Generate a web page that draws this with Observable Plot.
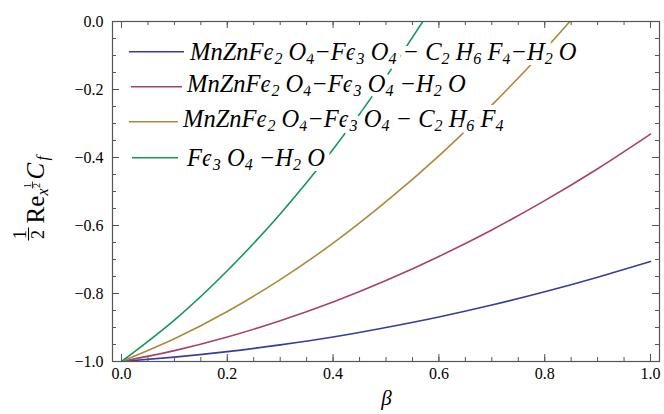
<!DOCTYPE html>
<html><head><meta charset="utf-8">
<script src="https://cdn.jsdelivr.net/npm/d3@7"></script>
<script src="https://cdn.jsdelivr.net/npm/@observablehq/plot@0.6"></script>
<style>body{margin:0;background:#fff}#chart{width:664px;height:414px}</style>
</head><body><div id="chart"></div>
<script>
// ---- data ----
const beta = [0, 0.1, 0.2, 0.3, 0.4, 0.5, 0.6, 0.7, 0.8, 0.9, 1.0];
const seriesNames = [
  "MnZnFe_2 O_4−Fe_3 O_4 − C_2 H_6 F_4−H_2 O",
  "MnZnFe_2 O_4−Fe_3 O_4 −H_2 O",
  "MnZnFe_2 O_4−Fe_3 O_4 − C_2 H_6 F_4",
  "Fe_3 O_4 −H_2 O"
];
const hybridQuaternary = [-1, -0.987, -0.971, -0.951, -0.928, -0.900, -0.869, -0.834, -0.795, -0.752, -0.706];
const hybridWater      = [-1, -0.968, -0.928, -0.880, -0.825, -0.762, -0.691, -0.613, -0.527, -0.433, -0.331];
const hybridR134a      = [-1, -0.933, -0.853, -0.759, -0.652, -0.530, -0.395, -0.246, -0.083, 0.094, null];
const monoWater        = [-1, -0.878, -0.733, -0.566, -0.376, -0.163, 0.073, null, null, null, null];
const seriesValues = [hybridQuaternary, hybridWater, hybridR134a, monoWater];
const colors = ["#3b3c98", "#a8406e", "#a88b3c", "#16955c"];
const xMajor = [0, 0.2, 0.4, 0.6, 0.8, 1.0];
const xMinor = [0,0.05,0.1,0.15,0.2,0.25,0.3,0.35,0.4,0.45,0.5,0.55,0.6,0.65,0.7,0.75,0.8,0.85,0.9,0.95,1.0];
const yMajor = [-1.0, -0.8, -0.6, -0.4, -0.2, 0.0];
const yMinor = [-1,-0.95,-0.9,-0.85,-0.8,-0.75,-0.7,-0.65,-0.6,-0.55,-0.5,-0.45,-0.4,-0.35,-0.3,-0.25,-0.2,-0.15,-0.1,-0.05,0];
const xLabel = "β";

// ---- build table ----
const rows = seriesNames.flatMap((name, i) =>
  beta.map((b, j) => ({beta: b, value: seriesValues[i][j], series: name})).filter(d => d.value != null));

const serif = "'Liberation Serif','Times New Roman',Times,serif";
const W = 664, H = 414, mL = 112, mR = 5, mT = 21, mB = 53;
const iW = W - mL - mR, iH = H - mT - mB;
const axisColor = "#555";
const fmt = d3.format(".1f");

// y-label pieces: page anchor (px,py) of each rotated glyph run (baseline point)
const midY = mT + iH / 2;
const yLabelPieces = [
  {t: "1",  px: 25,   py: 234, s: 18, a: "middle", i: false},
  {t: "2",  px: 43,   py: 234, s: 18, a: "middle", i: false},
  {t: "Re", px: 43,   py: 223, s: 25, a: "start",  i: false},
  {t: "x",  px: 47,   py: 195, s: 16, a: "start",  i: true},
  {t: "1",  px: 30.5, py: 185, s: 10, a: "middle", i: false},
  {t: "2",  px: 39.5, py: 185, s: 10, a: "middle", i: false},
  {t: "C",  px: 43,   py: 179, s: 25, a: "start",  i: true},
  {t: "f",  px: 47,   py: 160, s: 16, a: "start",  i: true}
];
const yLabelMarks = yLabelPieces.map(p => Plot.text([p.t], {
  text: d => d, frameAnchor: "left", rotate: -90, lineAnchor: "bottom",
  textAnchor: p.a, fontSize: p.s, fontStyle: p.i ? "italic" : "normal",
  dx: p.px - mL, dy: p.py - midY, fill: "#000"
}));

const plot = Plot.plot({
  width: W, height: H,
  marginLeft: mL, marginRight: mR, marginTop: mT, marginBottom: mB,
  style: {fontFamily: serif, fontSize: "16px", color: "#000", background: "#fff", overflow: "visible"},
  x: {domain: [-0.017, 1.017], label: null},
  y: {domain: [-1, 0], label: null},
  color: {domain: seriesNames, range: colors},
  marks: [
    Plot.line(rows, {x: "beta", y: "value", z: "series", stroke: "series", strokeWidth: 1.6, curve: "natural", clip: true}),
    // inward ticks: bottom / top
    Plot.tickX(xMinor, {x: d => d, stroke: axisColor, insetTop: iH - 4}),
    Plot.tickX(xMajor, {x: d => d, stroke: axisColor, insetTop: iH - 7}),
    Plot.tickX(xMinor, {x: d => d, stroke: axisColor, insetBottom: iH - 4}),
    Plot.tickX(xMajor, {x: d => d, stroke: axisColor, insetBottom: iH - 7}),
    // inward ticks: left / right
    Plot.tickY(yMinor, {y: d => d, stroke: axisColor, insetRight: iW - 4}),
    Plot.tickY(yMajor, {y: d => d, stroke: axisColor, insetRight: iW - 7}),
    Plot.tickY(yMinor, {y: d => d, stroke: axisColor, insetLeft: iW - 4}),
    Plot.tickY(yMajor, {y: d => d, stroke: axisColor, insetLeft: iW - 7}),
    Plot.frame({stroke: axisColor, strokeWidth: 1.2}),
    Plot.axisX(xMajor, {anchor: "bottom", tickSize: 0, tickPadding: 6, tickFormat: fmt, label: null, fontSize: 16}),
    Plot.axisY(yMajor, {anchor: "left", tickSize: 0, tickPadding: 9, tickFormat: fmt, label: null, fontSize: 16}),
    Plot.text([xLabel], {text: d => d, frameAnchor: "bottom", lineAnchor: "bottom", dx: 386 - (mL + iW / 2), dy: 404 - (H - mB),
      fontSize: 21, fontStyle: "italic", fill: "#000"}),
    ...yLabelMarks
  ]
});
document.getElementById("chart").appendChild(plot);

// fraction bars of the y label (vertical strokes, because the label is rotated)
const svg = d3.select(plot);
svg.append("line").attr("x1", 28.5).attr("x2", 28.5).attr("y1", 227.5).attr("y2", 240.5).attr("stroke", "#000").attr("stroke-width", 1.1);
svg.append("line").attr("x1", 32.5).attr("x2", 32.5).attr("y1", 181.5).attr("y2", 188.5).attr("stroke", "#000").attr("stroke-width", 0.8);

// ---- legend (drawn on top of curves, with white halo like the reference) ----
const legendLayout = [
  {lineY: 51.7, x1: 129, x2: 184, tx: 190, ty: 60},
  {lineY: 86.7, x1: 131, x2: 182, tx: 187, ty: 92},
  {lineY: 121.7, x1: 129, x2: 178, tx: 183, ty: 127},
  {lineY: 157.7, x1: 132, x2: 178, tx: 187, ty: 166}
];
const lg = svg.append("g").attr("text-anchor", "start");
seriesNames.forEach((name, i) => {
  const L = legendLayout[i];
  const t = lg.append("text").attr("x", L.tx).attr("y", L.ty).attr("text-anchor", "start")
    .attr("font-family", serif).attr("font-style", "italic").attr("font-size", 24.5).attr("fill", "#000")
    .attr("stroke", "#fff").attr("stroke-width", 10).attr("stroke-linejoin", "round").attr("paint-order", "stroke");
  const parts = name.split(/_(\d)/);
  let shifted = false;
  parts.forEach((p, k) => {
    if (!p) return;
    if (k % 2 === 1) {
      t.append("tspan").attr("font-size", 16).attr("dy", 4).text(p);
      shifted = true;
    } else {
      const s = t.append("tspan").text(p);
      if (shifted) { s.attr("dy", -4); shifted = false; }
    }
  });
  lg.append("line").attr("x1", L.x1).attr("x2", L.x2).attr("y1", L.lineY).attr("y2", L.lineY)
    .attr("stroke", colors[i]).attr("stroke-width", 1.6);
});
</script>
</body></html>
